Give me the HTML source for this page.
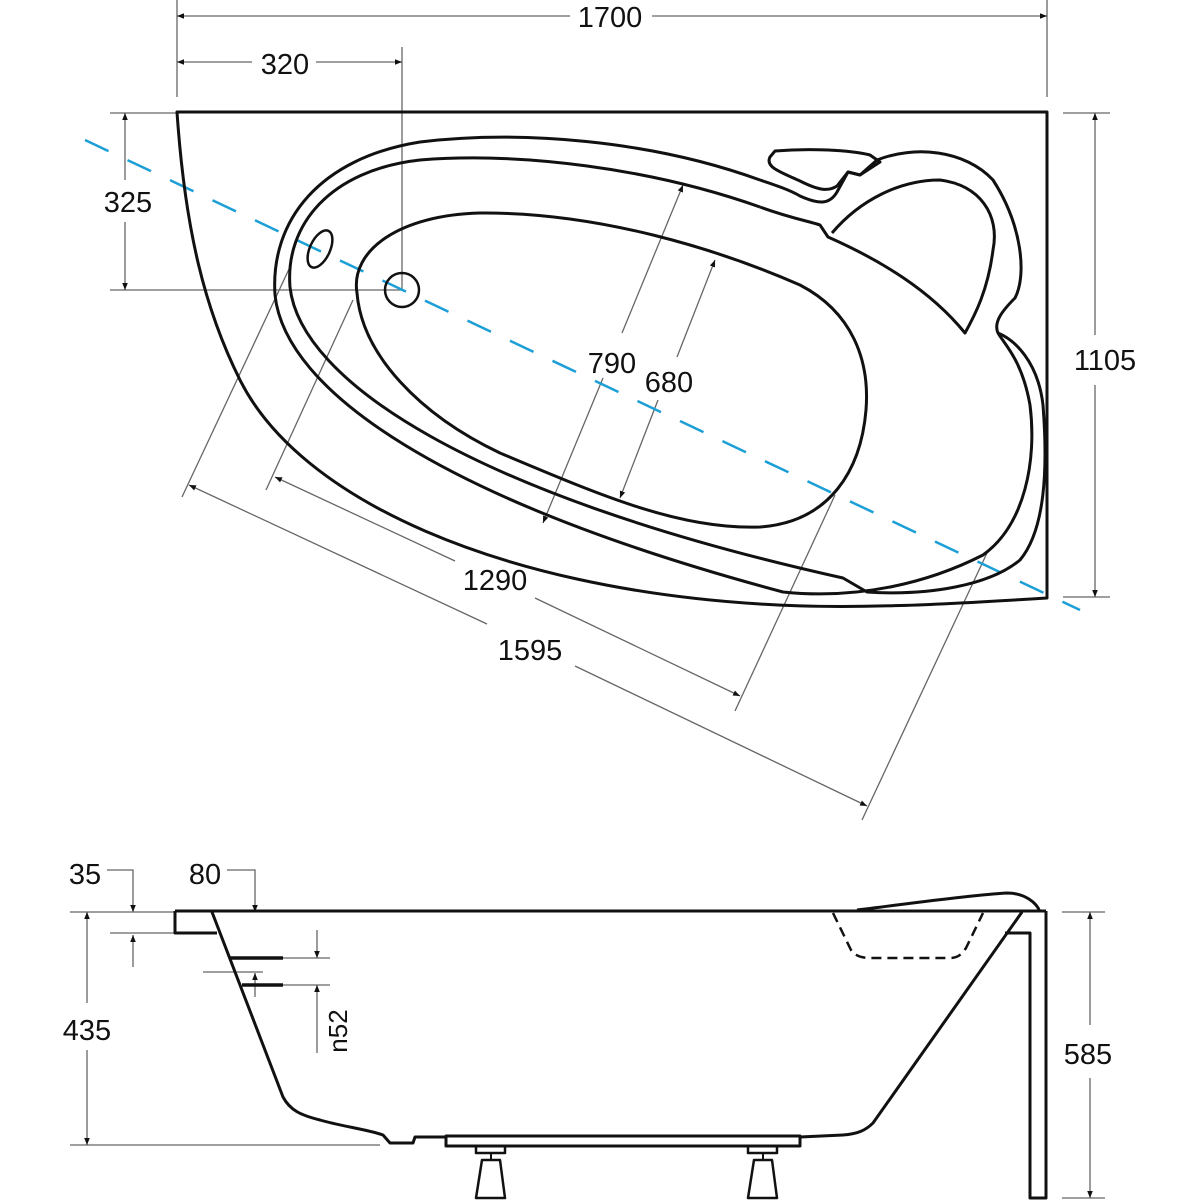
<!DOCTYPE html>
<html><head><meta charset="utf-8"><style>
html,body{margin:0;padding:0;background:#fff;}
svg{display:block;}
text{font-family:"Liberation Sans",Arial,sans-serif;font-size:29px;fill:#111;}
</style></head><body>
<svg width="1200" height="1200" viewBox="0 0 1200 1200" xmlns="http://www.w3.org/2000/svg">
<defs>
<marker id="a" viewBox="0 0 10 10" refX="10" refY="5" markerWidth="7" markerHeight="7" orient="auto-start-reverse" markerUnits="userSpaceOnUse"><path d="M0,1 L10,5 L0,9 Z" fill="#111"/></marker>
</defs>

<!-- dimension lines top view -->
<g stroke="#666" stroke-width="1.3" fill="none">
  <line x1="177" y1="0" x2="177" y2="97"/>
  <line x1="1047" y1="0" x2="1047" y2="97"/>
  <line x1="177" y1="16" x2="570" y2="16" marker-start="url(#a)"/>
  <line x1="652" y1="16" x2="1047" y2="16" marker-end="url(#a)"/>
  <line x1="402" y1="47" x2="402" y2="290"/>
  <line x1="177" y1="62" x2="252" y2="62" marker-start="url(#a)"/>
  <line x1="316" y1="62" x2="402" y2="62" marker-end="url(#a)"/>
  <line x1="110" y1="113" x2="177" y2="113"/>
  <line x1="110" y1="290" x2="402" y2="290"/>
  <line x1="125" y1="113" x2="125" y2="180" marker-start="url(#a)"/>
  <line x1="125" y1="222" x2="125" y2="290" marker-end="url(#a)"/>
  <line x1="1063" y1="113" x2="1110" y2="113"/>
  <line x1="1063" y1="597" x2="1110" y2="597"/>
  <line x1="1095" y1="113" x2="1095" y2="335" marker-start="url(#a)"/>
  <line x1="1095" y1="385" x2="1095" y2="597" marker-end="url(#a)"/>
  <!-- 790 -->
  <line x1="683" y1="185" x2="622" y2="333" marker-start="url(#a)"/>
  <line x1="603" y1="378" x2="543" y2="523" marker-end="url(#a)"/>
  <!-- 680 -->
  <line x1="715" y1="260" x2="677" y2="357" marker-start="url(#a)"/>
  <line x1="658" y1="400" x2="620" y2="498" marker-end="url(#a)"/>
  <!-- extension diag lines -->
  <line x1="290" y1="267" x2="182" y2="497"/>
  <line x1="353" y1="300" x2="266" y2="490"/>
  <line x1="835" y1="495" x2="735" y2="711"/>
  <line x1="987" y1="553" x2="862" y2="820"/>
  <!-- 1290 -->
  <line x1="275" y1="477" x2="455" y2="561" marker-start="url(#a)"/>
  <line x1="535" y1="598" x2="740" y2="696" marker-end="url(#a)"/>
  <!-- 1595 -->
  <line x1="189" y1="485" x2="487" y2="624" marker-start="url(#a)"/>
  <line x1="575" y1="666" x2="867" y2="806" marker-end="url(#a)"/>
</g>

<!-- blue center line -->
<line x1="85" y1="140" x2="1080" y2="610" stroke="#1c9fd6" stroke-width="2.5" stroke-dasharray="26,21"/>

<!-- top view shapes -->
<g stroke="#111" stroke-width="3" fill="none" stroke-linejoin="round">
  <path d="M177,112 L1047,112 L1047,598 C950,604 850,610 760,604 C500,588 300,500 240,380 C205,310 185,230 177,112 Z"/>
  <!-- outer rim line -->
  <path d="M760,180 C650,140 520,130 420,142 C320,158 270,220 275,295 C285,390 440,500 783,592 C860,600 930,582 983,555 C1025,525 1037,460 1030,405 C1022,360 1005,345 998,333 C993,322 1003,310 1015,298 C1027,275 1022,225 993,180 C965,150 915,145 877,160 L860,175 L848,172 L837,192 C830,204 820,205 800,196 C790,190 775,185 760,180"/>
  <!-- inner rim line -->
  <path d="M760,207 C650,168 520,152 420,160 C330,170 285,225 290,287 C300,380 470,495 843,578 L867,592 C930,596 990,585 1020,560 C1045,530 1048,470 1043,405 C1038,362 1015,340 998,333"/>
  <path d="M760,207 C790,218 812,222 820,225 L828,237 C880,260 930,290 965,333 C975,315 988,290 993,250 C1000,215 980,185 940,180 C900,180 860,200 832,233"/>
  <!-- soap dish -->
  <path d="M775,151 C810,148 850,150 870,155 L880,162 L860,175 L848,172 L837,186 C828,192 818,190 800,181 C780,172 765,167 770,157 Z"/>
  <!-- inner basin -->
  <path d="M357,293 C350,250 400,215 480,213 C600,212 720,250 800,285 C852,312 870,360 866,410 C861,470 830,522 760,527 C680,530 600,495 500,453 C420,415 362,355 357,293 Z"/>
  <ellipse cx="320" cy="249" rx="10" ry="20" transform="rotate(25 320 249)" stroke-width="2.5"/>
  <circle cx="402" cy="290" r="17" stroke-width="2.5"/>
</g>

<!-- top view texts -->
<text x="610" y="27" text-anchor="middle">1700</text>
<text x="285" y="74" text-anchor="middle">320</text>
<text x="128" y="212" text-anchor="middle">325</text>
<text x="1105" y="370" text-anchor="middle">1105</text>
<text x="612" y="373" text-anchor="middle">790</text>
<text x="669" y="392" text-anchor="middle">680</text>
<text x="495" y="590" text-anchor="middle">1290</text>
<text x="530" y="660" text-anchor="middle">1595</text>

<!-- side view dimension lines -->
<g stroke="#666" stroke-width="1.3" fill="none">
  <polyline points="107,870 133,870 133,912" marker-end="url(#a)"/>
  <line x1="133" y1="967" x2="133" y2="935" marker-end="url(#a)"/>
  <line x1="110" y1="933" x2="175" y2="933"/>
  <polyline points="227,870 255,870 255,912" marker-end="url(#a)"/>
  <line x1="70" y1="912" x2="175" y2="912"/>
  <line x1="70" y1="1145" x2="380" y2="1145"/>
  <line x1="87" y1="912" x2="87" y2="1003" marker-start="url(#a)"/>
  <line x1="87" y1="1050" x2="87" y2="1145" marker-end="url(#a)"/>
  <line x1="283" y1="958" x2="330" y2="958"/>
  <line x1="283" y1="985" x2="330" y2="985"/>
  <line x1="203" y1="972" x2="263" y2="972"/>
  <line x1="255" y1="997" x2="255" y2="973" marker-end="url(#a)"/>
  <line x1="317" y1="930" x2="317" y2="958" marker-end="url(#a)"/>
  <line x1="317" y1="1053" x2="317" y2="985" marker-end="url(#a)"/>
  <line x1="1062" y1="912" x2="1105" y2="912"/>
  <line x1="1062" y1="1198" x2="1105" y2="1198"/>
  <line x1="1090" y1="912" x2="1090" y2="1025" marker-start="url(#a)"/>
  <line x1="1090" y1="1078" x2="1090" y2="1198" marker-end="url(#a)"/>
</g>

<!-- side view shapes -->
<g stroke="#111" stroke-width="3" fill="none" stroke-linejoin="round">
  <line x1="175" y1="911" x2="1046" y2="911"/>
  <path d="M175,911 L175,933 L217,933"/>
  <path d="M212,912 L283,1097 C290,1110 300,1115 320,1120 C340,1126 370,1130 383,1135 L390,1143 L413,1143 L415,1137 L446,1137"/>
  <rect x="446" y="1136" width="354" height="10"/>
  <rect x="476" y="1146" width="29" height="7" stroke-width="2.5"/>
  <rect x="748" y="1146" width="29" height="7" stroke-width="2.5"/>
  <path d="M482,1160 L500,1160 L505,1198 L476,1198 Z" stroke-width="2.5"/>
  <path d="M754,1160 L772,1160 L777,1198 L748,1198 Z" stroke-width="2.5"/>
  <line x1="491" y1="1153" x2="491" y2="1160" stroke-width="2"/>
  <line x1="763" y1="1153" x2="763" y2="1160" stroke-width="2"/>
  <path d="M800,1137 L843,1135 C858,1134 866,1130 873,1123 L1022,912"/>
  <path d="M857,910 C900,905 960,896 1007,893 C1025,893 1037,903 1040,912"/>
  <path d="M1046,911 L1046,1198 L1030,1198 L1030,933 L1005,933"/>
  <path d="M833,913 L851,950 C855,956 862,958 870,958 L950,958 C958,958 962,954 966,948 L983,913" stroke-dasharray="10,6" stroke-width="2.5"/>
</g>
<g stroke="#111" stroke-width="3.5">
  <line x1="230" y1="958" x2="283" y2="958"/>
  <line x1="242" y1="985" x2="283" y2="985"/>
</g>

<!-- side view texts -->
<text x="85" y="884" text-anchor="middle">35</text>
<text x="205" y="884" text-anchor="middle">80</text>
<text x="87" y="1040" text-anchor="middle">435</text>
<text x="1088" y="1064" text-anchor="middle">585</text>
<text x="0" y="0" text-anchor="middle" transform="translate(347,1031) rotate(-90)" style="font-size:26px">n52</text>
</svg>
</body></html>
